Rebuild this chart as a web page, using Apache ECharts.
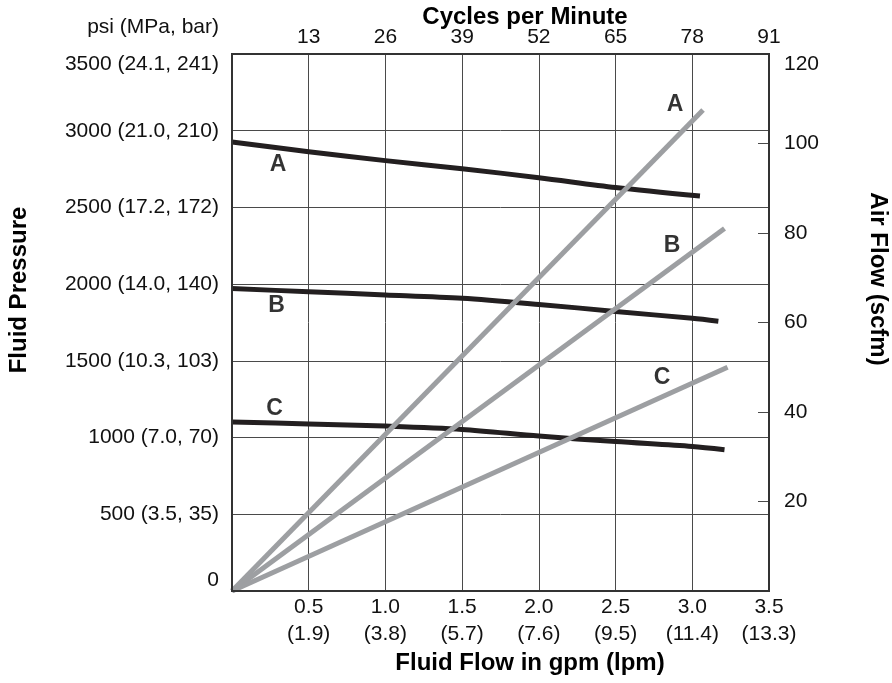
<!DOCTYPE html>
<html>
<head>
<meta charset="utf-8">
<script src="https://cdn.jsdelivr.net/npm/echarts@6/dist/echarts.min.js"></script>
<style>html,body{margin:0;padding:0;background:#fff}#chart{width:892px;height:683px}</style>
</head>
<body>
<div id="chart"></div>
<script>
// ---- data ----
const flowTickLabels = ["", "0.5\n(1.9)", "1.0\n(3.8)", "1.5\n(5.7)", "2.0\n(7.6)", "2.5\n(9.5)", "3.0\n(11.4)", "3.5\n(13.3)"];
const cycleTickLabels = ["", "13", "26", "39", "52", "65", "78", "91"];
const pressureTickLabels = ["0", "500 (3.5, 35)", "1000 (7.0, 70)", "1500 (10.3, 103)", "2000 (14.0, 140)", "2500 (17.2, 172)", "3000 (21.0, 210)", "3500 (24.1, 241)"];
const airTickLabels = ["", "20", "40", "60", "80", "100", "120"];

// Fluid pressure curves (psi) vs fluid flow (gpm)
const flowA = [0, 0.5, 1.0, 1.5, 2.0, 2.5, 3.05];
const pressureA = [2927, 2863, 2805, 2752, 2694, 2630, 2574];
const flowB = [0, 0.5, 1.0, 1.5, 2.0, 2.5, 3.0, 3.17];
const pressureB = [1972, 1950, 1930, 1908, 1868, 1822, 1777, 1758];
const flowC = [0, 0.5, 1.0, 1.5, 2.0, 2.5, 3.0, 3.21];
const pressureC = [1102, 1089, 1075, 1053, 1010, 974, 942, 921];

// Air flow lines (scfm) vs fluid flow (gpm)
const airFlowA = [0, 3.07];
const airA = [0, 107.5];
const airFlowB = [0, 3.21];
const airB = [0, 81];
const airFlowC = [0, 3.23];
const airC = [0, 50];

// curve labels (data coordinates)
const pressureLabelNames = ["A", "B", "C"];
const pressureLabelFlow = [0.30, 0.29, 0.277];
const pressureLabelPsi = [2777, 1858, 1189];
const airLabelNames = ["A", "B", "C"];
const airLabelFlow = [2.887, 2.868, 2.803];
const airLabelScfm = [108.6, 77.1, 47.6];

// ---- chart ----
const zip = (xs, ys) => xs.map((x, i) => [x, ys[i]]);
const FONT = '"Liberation Sans", Arial, Helvetica, sans-serif';
const BLACK = '#231f20';
const GRAY = '#9d9fa2';
const GRID = '#4a4a4a';

const chart = echarts.init(document.getElementById('chart'), null, {renderer: 'canvas'});

function lineSeries(name, xs, ys, yIdx, color, smooth) {
  return {
    name, type: 'line', xAxisIndex: 0, yAxisIndex: yIdx,
    data: zip(xs, ys), showSymbol: false, symbol: 'none', smooth: smooth,
    lineStyle: {color, width: 5, cap: 'butt', join: 'round'},
    z: yIdx === 1 ? 4 : 3, silent: true
  };
}
function labelSeries(names, xs, ys, yIdx) {
  return {
    type: 'scatter', xAxisIndex: 0, yAxisIndex: yIdx,
    data: names.map((n, i) => [xs[i], ys[i], n]),
    symbolSize: 1, itemStyle: {color: 'transparent'}, z: 6, silent: true,
    label: {show: true, position: 'inside', formatter: p => p.data[2],
      fontFamily: FONT, fontSize: 23, fontWeight: 'bold', color: '#000'}
  };
}

chart.setOption({
  animation: false,
  backgroundColor: '#fff',
  textStyle: {fontFamily: FONT},
  grid: {left: 232, right: 123, top: 54, bottom: 92, show: true, borderColor: '#333', borderWidth: 2, backgroundColor: 'transparent', z: 10},
  xAxis: [
    {type: 'value', position: 'bottom', min: 0, max: 3.5, interval: 0.5,
      axisLine: {show: false, onZero: false}, axisTick: {show: false},
      splitLine: {show: true, lineStyle: {color: GRID, width: 1}},
      axisLabel: {margin: 3, fontSize: 21, lineHeight: 27, color: '#111', fontFamily: FONT,
        formatter: v => flowTickLabels[Math.round(v / 0.5)]}},
    {type: 'value', position: 'top', min: 0, max: 91, interval: 13,
      axisLine: {show: false, onZero: false}, axisTick: {show: false}, splitLine: {show: false},
      axisLabel: {margin: 6, fontSize: 21, color: '#111', fontFamily: FONT,
        formatter: v => cycleTickLabels[Math.round(v / 13)]}}
  ],
  yAxis: [
    {type: 'value', position: 'left', min: 0, max: 3500, interval: 500,
      axisLine: {show: false, onZero: false}, axisTick: {show: false},
      splitLine: {show: true, lineStyle: {color: GRID, width: 1}},
      axisLabel: {margin: 13, fontSize: 21, color: '#111', fontFamily: FONT,
        verticalAlignMaxLabel: 'top', verticalAlignMinLabel: 'bottom',
        formatter: v => pressureTickLabels[Math.round(v / 500)]}},
    {type: 'value', position: 'right', min: 0, max: 120, interval: 20,
      axisLine: {show: false, onZero: false},
      axisTick: {show: true, inside: true, length: 11, lineStyle: {color: GRID, width: 1}},
      splitLine: {show: false},
      axisLabel: {margin: 15, fontSize: 21, color: '#111', fontFamily: FONT,
        verticalAlignMaxLabel: 'top',
        formatter: v => airTickLabels[Math.round(v / 20)]}}
  ],
  graphic: [
    {type: 'text', right: 892 - 219, top: 17, style: {text: 'psi (MPa, bar)', font: '21px ' + FONT, fill: '#111'}},
    {type: 'text', x: 525, y: 17, style: {text: 'Cycles per Minute', font: 'bold 24px ' + FONT, fill: '#000', align: 'center', verticalAlign: 'middle'}},
    {type: 'text', x: 530, y: 663, style: {text: 'Fluid Flow in gpm (lpm)', font: 'bold 24px ' + FONT, fill: '#000', align: 'center', verticalAlign: 'middle'}},
    {type: 'text', x: 19, y: 290, rotation: Math.PI / 2, style: {text: 'Fluid Pressure', font: 'bold 24px ' + FONT, fill: '#000', align: 'center', verticalAlign: 'middle'}},
    {type: 'text', x: 878, y: 279, rotation: -Math.PI / 2, style: {text: 'Air Flow (scfm)', font: 'bold 24px ' + FONT, fill: '#000', align: 'center', verticalAlign: 'middle'}}
  ],
  series: [
    lineSeries('Pressure A', flowA, pressureA, 0, BLACK, 0.3),
    lineSeries('Pressure B', flowB, pressureB, 0, BLACK, 0.3),
    lineSeries('Pressure C', flowC, pressureC, 0, BLACK, 0.3),
    lineSeries('Air A', airFlowA, airA, 1, GRAY, false),
    lineSeries('Air B', airFlowB, airB, 1, GRAY, false),
    lineSeries('Air C', airFlowC, airC, 1, GRAY, false),
    labelSeries(pressureLabelNames, pressureLabelFlow, pressureLabelPsi, 0),
    labelSeries(airLabelNames, airLabelFlow, airLabelScfm, 1)
  ]
});
</script>
</body>
</html>
